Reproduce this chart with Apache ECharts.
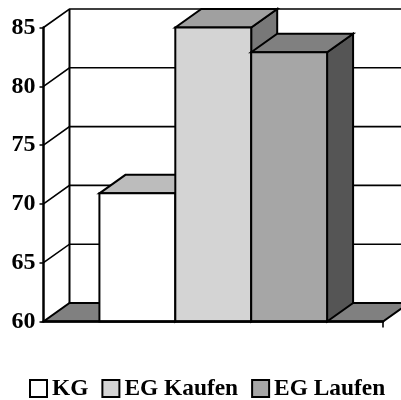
<!DOCTYPE html>
<html>
<head>
<meta charset="utf-8">
<style>html,body{margin:0;padding:0;background:#fff}#c{width:401px;height:400px}</style>
<script src="https://cdn.jsdelivr.net/npm/echarts@6/dist/echarts.min.js"></script>
</head>
<body>
<div id="c"></div>
<script>
const categories = [''];
const seriesNames = ['KG', 'EG Kaufen', 'EG Laufen'];
const seriesValues = [70.9, 85, 82.9];
const yTicks = [60, 65, 70, 75, 80, 85];
const faceColors = ['#ffffff', '#d4d4d4', '#a6a6a6'];
const topColors = ['#bcbcbc', '#a0a0a0', '#808080'];
const sideColors = ['#8a8a8a', '#787878', '#555555'];

const DX = 26, DY = 18.5, BAR_FRACTION = 76 / 340, INK = '#000', LW = 2, GRID_LW = 1.6;
const FONT = '"Liberation Serif", serif';
const stroke = { stroke: INK, lineWidth: LW, lineJoin: 'miter' };
const poly = (points, fill) => ({
  type: 'polygon', shape: { points }, style: Object.assign({ fill }, stroke)
});
const line = (points, lw) => ({
  type: 'polyline', shape: { points },
  style: { fill: null, stroke: INK, lineWidth: lw || GRID_LW }
});

function renderWall(params, api) {
  const v = api.value(1);
  const c = api.coord([0, v]);
  const w = api.size([1, 0])[0];
  const l = c[0] - w / 2, r = c[0] + w / 2, y = c[1];
  const kids = [];
  if (v === yTicks[0]) {
    kids.push(poly([[l, y], [r, y], [r + DX, y - DY], [l + DX, y - DY]], '#808080'));
    kids.push(line([[r, y], [r, y + 6]]));
  } else {
    kids.push(line([[l, y], [l + DX, y - DY], [r + DX, y - DY]]));
  }
  if (v === yTicks[yTicks.length - 1]) {
    const base = api.coord([0, yTicks[0]])[1];
    kids.push(line([[l + DX, y - DY], [l + DX, base - DY]], LW));
  }
  return { type: 'group', children: kids };
}

function renderBar(i) {
  return function (params, api) {
    const v = api.value(1);
    const c = api.coord([0, v]);
    const base = api.coord([0, yTicks[0]])[1];
    const size = api.size([1, 0])[0];
    const bw = size * BAR_FRACTION;
    const l = c[0] + (i - seriesNames.length / 2) * bw, r = l + bw, t = c[1];
    return {
      type: 'group',
      children: [
        poly([[r, base], [r + DX, base - DY], [r + DX, t - DY], [r, t]], sideColors[i]),
        poly([[l, t], [l + DX, t - DY], [r + DX, t - DY], [r, t]], topColors[i]),
        poly([[l, base], [r, base], [r, t], [l, t]], faceColors[i])
      ]
    };
  };
}

const series = [{
  type: 'custom', name: 'wall', silent: true, clip: false, z: 1,
  data: yTicks.map(v => [0, v]),
  encode: { x: 0, y: 1 },
  renderItem: renderWall
}].concat(seriesNames.map((name, i) => ({
  type: 'custom', name, clip: false, z: 2 + i,
  itemStyle: { color: faceColors[i], borderColor: INK, borderWidth: LW },
  data: [[0, seriesValues[i]]],
  encode: { x: 0, y: 1 },
  renderItem: renderBar(i)
})));

const chart = echarts.init(document.getElementById('c'), null, { renderer: 'canvas' });
chart.setOption({
  animation: false,
  backgroundColor: '#fff',
  grid: { left: 43.5, right: 18, top: 27.5, bottom: 78.5 },
  legend: {
    data: seriesNames.map((name, i) => ({
      name, icon: 'rect',
      itemStyle: { color: faceColors[i], borderColor: INK, borderWidth: LW }
    })),
    left: 29, top: 377, itemWidth: 17, itemHeight: 17, itemGap: 13, padding: 0,
    selectedMode: false,
    textStyle: { fontFamily: FONT, fontWeight: 'bold', fontSize: 23.4, color: '#000', padding: [4, 0, 0, 0] }
  },
  xAxis: {
    type: 'category', data: categories, z: 10,
    axisLine: { onZero: false, lineStyle: { color: INK, width: 2.5 } },
    axisTick: { show: false },
    axisLabel: { show: false }
  },
  yAxis: {
    type: 'value', min: 60, max: 85, interval: 5, z: 10,
    axisLine: { show: true, lineStyle: { color: INK, width: 2.5 } },
    axisTick: { show: true, length: 4, lineStyle: { color: INK, width: 1.5 } },
    splitLine: { show: false },
    axisLabel: { margin: 8, fontFamily: FONT, fontWeight: 'bold', fontSize: 24, color: '#000', padding: [4, 0, 0, 0] }
  },
  series
});
</script>
</body>
</html>
